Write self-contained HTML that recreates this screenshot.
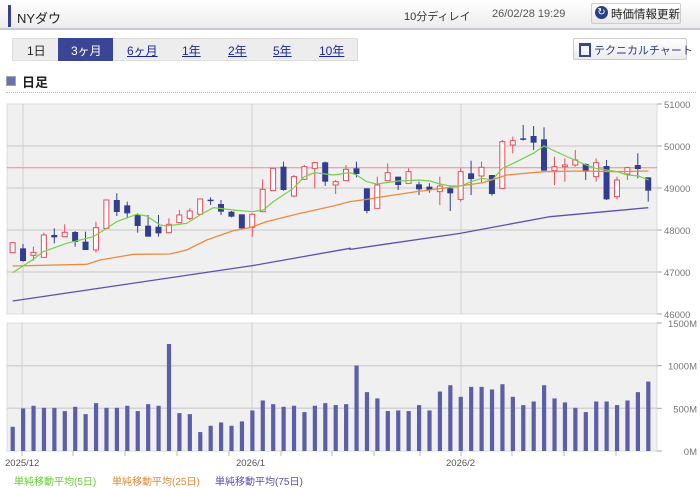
<!DOCTYPE html>
<html><head><meta charset="utf-8">
<style>
body{margin:0;width:700px;height:488px;background:#fff;font-family:"Liberation Sans","Noto Sans CJK JP",sans-serif;position:relative;overflow:hidden}
.a{position:absolute;white-space:nowrap}
</style></head><body>
<div class="a" style="left:0;top:0;width:700px;height:28px;background:linear-gradient(#fff,#ececec);border-bottom:2px solid #c8cad6"></div>
<div class="a" style="left:8px;top:5px;width:3px;height:22px;background:#3b3f8f"></div>
<div class="a" style="left:17px;top:8px;font-size:13px;color:#222">NYダウ</div>
<div class="a" style="left:404px;top:8px;font-size:11px;color:#333">10分ディレイ</div>
<div class="a" style="left:492px;top:8px;font-size:11px;color:#555">26/02/28 19:29</div>
<div class="a" style="left:591px;top:3px;width:88px;height:19px;border:1px solid #ccc;border-radius:2px;background:linear-gradient(#fff,#e8e8e8)"></div>
<div class="a" style="left:595px;top:6px;width:13px;height:13px;border-radius:50%;background:#2a3f86;color:#fff;font-size:10px;line-height:13px;text-align:center">↻</div>
<div class="a" style="left:611px;top:6px;font-size:11.5px;color:#222">時価情報更新</div>

<div class="a" style="left:12px;top:38px;width:344px;height:21px;background:#ededed;border:1px solid #ddd"></div>
<div class="a" style="left:58px;top:38px;width:55px;height:23px;background:#3a4596"></div>
<div class="a" style="left:27px;top:42px;font-size:12px;color:#222">1日</div>
<div class="a" style="left:71px;top:42px;font-size:12px;color:#fff">3ヶ月</div>
<div class="a" style="left:127px;top:42px;font-size:12px;color:#1a2a9a;text-decoration:underline">6ヶ月</div>
<div class="a" style="left:182px;top:42px;font-size:12px;color:#1a2a9a;text-decoration:underline">1年</div>
<div class="a" style="left:228px;top:42px;font-size:12px;color:#1a2a9a;text-decoration:underline">2年</div>
<div class="a" style="left:273px;top:42px;font-size:12px;color:#1a2a9a;text-decoration:underline">5年</div>
<div class="a" style="left:319px;top:42px;font-size:12px;color:#1a2a9a;text-decoration:underline">10年</div>
<div class="a" style="left:573px;top:38px;width:112px;height:20px;border:1px solid #ccc;border-radius:2px;background:linear-gradient(#fff,#ececec)"></div>
<div class="a" style="left:579px;top:43px;width:8px;height:9px;border:2px solid #3a4596;border-top-width:3px"></div>
<div class="a" style="left:594px;top:42px;font-size:11px;color:#2a3a8a">テクニカルチャート</div>

<div class="a" style="left:6px;top:76px;width:8px;height:8px;background:#6a70b0;border:1px solid #9aa"></div>
<div class="a" style="left:22px;top:72px;font-size:13px;color:#222;font-weight:bold">日足</div>
<div class="a" style="left:6px;top:92px;width:690px;border-top:1px dotted #bbb"></div>

<svg class="a" style="left:0;top:0" width="700" height="488" id="s" xmlns="http://www.w3.org/2000/svg"></svg>

<div class="a" style="left:14px;top:473px;font-size:10px;color:#66cc33">単純移動平均(5日)</div>
<div class="a" style="left:112px;top:473px;font-size:10px;color:#e08a3a">単純移動平均(25日)</div>
<div class="a" style="left:215px;top:473px;font-size:10px;color:#5a4fb0">単純移動平均(75日)</div>

<script>
var s=document.getElementById('s'),h='';
function X(i){return 12.6+i*10.42}
h+='<rect x="7" y="104" width="650" height="210" fill="#f0f0f0" stroke="#ddd"/>';
[146,188,230,272].forEach(function(y){h+='<line x1="7" x2="657" y1="'+y+'" y2="'+y+'" stroke="#d4d4d4" stroke-width="1.5"/>'});
[23,252,461].forEach(function(x){h+='<line x1="'+x+'" x2="'+x+'" y1="104" y2="314" stroke="#d0d0d0"/>'});
var pl=['51000','50000','49000','48000','47000','46000'];
pl.forEach(function(t,k){var y=104+k*42;h+='<line x1="657" x2="662" y1="'+y+'" y2="'+y+'" stroke="#aaa"/><text x="664" y="'+(y+4)+'" font-size="9.5" fill="#777" font-family="Liberation Sans">'+t+'</text>'});
h+='<line x1="7" x2="657" y1="167.7" y2="167.7" stroke="#f08a8a"/>';
var c=[
['r',428,458,428,458],['b',445,483,432,485],['r',457,466,440,482],['r',405,472,398,472],['b',405,412,385,430],['r',397,410,373,410],['b',396,426,393,440],['b',425,450,395,450],['r',383,450,365,458],['r',300,385,298,385],
['b',300,336,280,348],['b',316,340,305,355],['b',345,378,340,398],['b',377,410,345,410],['b',380,400,345,410],['r',373,398,355,398],['r',345,368,330,368],['r',333,355,325,360],['r',297,343,295,343],['b',299,302,292,315],
['b',312,335,300,345],['b',335,350,333,352],['b',343,385,343,385],['r',343,382,340,410],['r',268,335,238,335],['r',205,272,205,272],['b',200,270,185,272],['r',230,288,225,292],['r',200,238,195,240],['r',188,205,185,265],
['b',187,245,185,258],['r',245,255,240,282],['r',208,242,195,242],
['b',205,222,185,232],['b',265,333,265,340],['r',255,325,230,325],['r',218,242,190,242],['b',230,255,230,270],['r',215,250,205,250],['b',253,268,245,285],['b',260,270,250,278],['r',258,275,230,315],['b',265,280,258,333],['r',215,298,205,305],['b',220,237,182,285],['r',202,228,185,250],['b',225,282,225,287],['r',125,265,120,265],['r',122,135,110,160],['b',115,119,75,122],['b',108,128,78,150],['b',118,212,82,212],['r',200,212,170,255],['r',195,200,175,245],['r',180,195,150,200],['b',192,215,190,240],['r',188,230,175,245],['b',198,298,180,300],['r',240,290,230,298],['r',203,222,200,240],['b',195,207,160,235],['b',232,272,232,305]];
function Y(v){return 100+v/3}
c.forEach(function(d,i){var x=X(i),col=d[0]=='r'?'#e84a5a':'#333d8f';
h+='<line x1="'+x+'" x2="'+x+'" y1="'+Y(d[3])+'" y2="'+Y(d[4])+'" stroke="'+col+'"/>';
var t=Y(d[1]),bh=Math.max(1.5,Y(d[2])-t);
if(d[0]=='r')h+='<rect x="'+(x-2.5)+'" y="'+t+'" width="5" height="'+bh+'" fill="#fff" stroke="'+col+'"/>';
else h+='<rect x="'+(x-3)+'" y="'+t+'" width="6" height="'+bh+'" fill="'+col+'"/>';});
function pts(a,b){var r=[];a.forEach(function(p){r.push((p[0]/3)+','+Y(p[1]))});b.forEach(function(p){r.push((350+p[0]/3)+','+Y(p[1]))});return r.join(' ')}
var m75=pts([[38,603],[757,497],[1050,445]],[[0,448],[330,400],[600,350],[895,323]]);
var m25=pts([[38,498],[260,493],[300,480],[400,463],[510,462],[560,450],[620,420],[700,392],[750,383],[800,365],[900,340],[1000,318],[1050,305]],[[50,298],[100,290],[200,275],[300,262],[400,248],[470,225],[580,215],[700,213],[800,215],[895,213]]);
var m5=pts([[38,518],[100,478],[130,455],[200,430],[280,410],[320,385],[350,365],[410,343],[440,348],[480,375],[500,378],[560,370],[600,345],[640,323],[700,330],[756,335],[790,330],[820,305],[880,265],[913,230],[944,218],[1000,225],[1050,218]],[[20,225],[50,245],[80,252],[145,243],[207,240],[240,243],[270,252],[300,258],[333,258],[363,245],[395,235],[427,240],[457,205],[490,190],[550,160],[582,138],[640,165],[708,195],[738,205],[770,210],[802,215],[832,225],[865,228],[896,240]]);
h+='<polyline points="'+m75+'" fill="none" stroke="#5a4fb8" stroke-width="1.3"/>';
h+='<polyline points="'+m25+'" fill="none" stroke="#ec8a40" stroke-width="1.3"/>';
h+='<polyline points="'+m5+'" fill="none" stroke="#77d04a" stroke-width="1.2"/>';
h+='<rect x="7" y="323" width="650" height="128" fill="#f0f0f0" stroke="#ddd"/>';
[365.7,408.3].forEach(function(y){h+='<line x1="7" x2="657" y1="'+y+'" y2="'+y+'" stroke="#d4d4d4" stroke-width="1.5"/>'});
[22,252,461].forEach(function(x){h+='<line x1="'+x+'" x2="'+x+'" y1="323" y2="451" stroke="#d0d0d0"/>'});
['1500M','1000M','500M','0M'].forEach(function(t,k){var y=323+k*42.67;h+='<line x1="657" x2="662" y1="'+y+'" y2="'+y+'" stroke="#aaa"/><text x="697" y="'+(y+4)+'" text-anchor="end" font-size="9.5" fill="#777" font-family="Liberation Sans">'+t+'</text>'});
var v=[284,499,530,506,506,468,518,432,561,506,506,530,468,549,530,1254,444,432,222,296,335,296,347,475,592,549,518,530,456,530,561,538,549,1001,690,616,468,475,468,538,475,697,771,635,752,752,721,783,635,538,580,771,616,569,506,456,580,580,538,592,690,814];
v.forEach(function(m,i){var hh=m/1500*128;h+='<rect x="'+(X(i)-2)+'" y="'+(451-hh)+'" width="4.2" height="'+hh+'" fill="#5c5fa8"/>'});
[22,73,125,177,229,281,332,374,420,461,512,564,616].forEach(function(x){h+='<line x1="'+x+'" x2="'+x+'" y1="451" y2="456" stroke="#bbb"/>'});
h+='<text x="5" y="466" font-size="9.5" fill="#555" font-family="Liberation Sans">2025/12</text>';
h+='<text x="236" y="466" font-size="9.5" fill="#555" font-family="Liberation Sans">2026/1</text>';
h+='<text x="446" y="466" font-size="9.5" fill="#555" font-family="Liberation Sans">2026/2</text>';
s.innerHTML=h;
</script>
</body></html>
